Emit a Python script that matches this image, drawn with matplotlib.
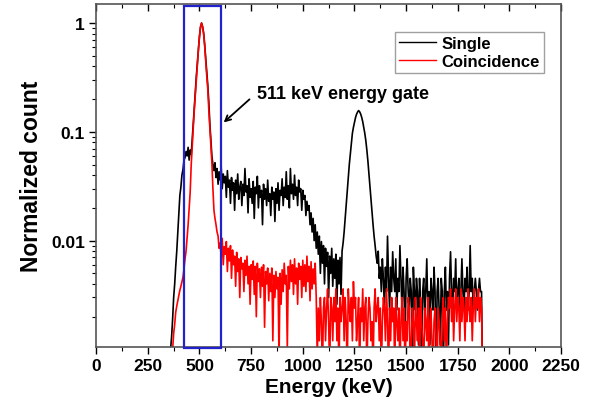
import matplotlib
matplotlib.use("Agg")
import matplotlib.pyplot as plt
import matplotlib.transforms as mtransforms
from matplotlib.patches import Rectangle
from matplotlib.ticker import MultipleLocator, LogLocator, NullFormatter
import numpy as np

# channel energies (keV), 5 keV bins
energy = np.arange(350, 1880, 5)

# Single spectrum (0.0005 = empty bin, below the axis)
single = [
    0.0005, 0.0006, 0.0010, 0.0013, 0.0019, 0.0030, 0.0040, 0.0058, 0.0080, 0.012,
    0.018, 0.026, 0.031, 0.040, 0.045, 0.055, 0.058, 0.066, 0.060, 0.072,
    0.055, 0.068, 0.062, 0.085, 0.12, 0.17, 0.24, 0.33, 0.44, 0.59,
    0.76, 0.92, 1.0, 0.93, 0.81, 0.64, 0.48, 0.36, 0.27, 0.19,
    0.12, 0.085, 0.060, 0.050, 0.044, 0.052, 0.038, 0.046, 0.033, 0.043,
    0.036, 0.048, 0.030, 0.041, 0.034, 0.039, 0.025, 0.044, 0.031, 0.036,
    0.022, 0.038, 0.029, 0.034, 0.019, 0.036, 0.027, 0.041, 0.024, 0.031,
    0.035, 0.021, 0.033, 0.026, 0.046, 0.028, 0.032, 0.018, 0.037, 0.025,
    0.030, 0.022, 0.035, 0.016, 0.031, 0.027, 0.039, 0.020, 0.032, 0.025,
    0.029, 0.014, 0.033, 0.024, 0.030, 0.021, 0.036, 0.023, 0.027, 0.017,
    0.031, 0.024, 0.028, 0.015, 0.030, 0.022, 0.034, 0.019, 0.029, 0.026,
    0.037, 0.021, 0.031, 0.025, 0.043, 0.024, 0.032, 0.020, 0.046, 0.027,
    0.033, 0.024, 0.040, 0.026, 0.031, 0.021, 0.036, 0.028, 0.030, 0.019,
    0.029, 0.024, 0.026, 0.017, 0.023, 0.019, 0.021, 0.014, 0.018, 0.012,
    0.016, 0.010, 0.014, 0.0085, 0.012, 0.0075, 0.011, 0.0050, 0.0098, 0.0062,
    0.0090, 0.0040, 0.0085, 0.0058, 0.0078, 0.0030, 0.0072, 0.0050, 0.0085, 0.0038,
    0.0068, 0.0045, 0.0075, 0.0026, 0.0066, 0.0040, 0.0070, 0.0032, 0.0080, 0.0095,
    0.012, 0.016, 0.021, 0.029, 0.038, 0.050, 0.063, 0.078, 0.097, 0.110,
    0.122, 0.135, 0.145, 0.152, 0.157, 0.153, 0.146, 0.136, 0.124, 0.110,
    0.097, 0.083, 0.068, 0.054, 0.041, 0.031, 0.024, 0.018, 0.014, 0.011,
    0.0090, 0.0072, 0.0062, 0.0080, 0.0045, 0.0057, 0.0034, 0.0068, 0.0045, 0.0023,
    0.0057, 0.0034, 0.0110, 0.0045, 0.0023, 0.0057, 0.0034, 0.0079, 0.0045, 0.0034,
    0.0068, 0.0023, 0.0045, 0.0034, 0.0090, 0.0045, 0.0023, 0.0057, 0.0034, 0.0011,
    0.0045, 0.0068, 0.0034, 0.0023, 0.0045, 0.0034, 0.0005, 0.0057, 0.0034, 0.0023,
    0.0045, 0.0034, 0.0011, 0.0045, 0.0023, 0.0005, 0.0034, 0.0045, 0.0023, 0.0034,
    0.0068, 0.0023, 0.0034, 0.0011, 0.0045, 0.0034, 0.0023, 0.0057, 0.0034, 0.0005,
    0.0034, 0.0045, 0.0023, 0.0011, 0.0045, 0.0034, 0.0005, 0.0034, 0.0057, 0.0023,
    0.0034, 0.0011, 0.0045, 0.0079, 0.0034, 0.0023, 0.0045, 0.0034, 0.0068, 0.0023,
    0.0034, 0.0045, 0.0023, 0.0034, 0.0068, 0.0034, 0.0023, 0.0045, 0.0034, 0.0057,
    0.0023, 0.0034, 0.0090, 0.0034, 0.0045, 0.0023, 0.0034, 0.0045, 0.0034, 0.0023,
    0.0034, 0.0045, 0.0034, 0.0034, 0.0005, 0.0005,
]

# Coincidence spectrum
coinc = [
    0.0005, 0.0005, 0.0005, 0.0007, 0.0010, 0.0014, 0.0017, 0.0022, 0.0025, 0.0028,
    0.0031, 0.0035, 0.0038, 0.0042, 0.0046, 0.0055, 0.0068, 0.0080, 0.0105, 0.014,
    0.020, 0.028, 0.050, 0.075, 0.11, 0.16, 0.22, 0.31, 0.42, 0.58,
    0.75, 0.92, 1.0, 0.92, 0.80, 0.62, 0.45, 0.33, 0.25, 0.16,
    0.11, 0.075, 0.052, 0.030, 0.019, 0.016, 0.014, 0.012, 0.011, 0.0085,
    0.0095, 0.0070, 0.0105, 0.0060, 0.0088, 0.0075, 0.0098, 0.0052, 0.0085, 0.0065,
    0.0090, 0.0045, 0.0082, 0.0060, 0.0072, 0.0038, 0.0078, 0.0052, 0.0068, 0.0030,
    0.0070, 0.0055, 0.0062, 0.0034, 0.0066, 0.0048, 0.0072, 0.0040, 0.0058, 0.0026,
    0.0060, 0.0044, 0.0065, 0.0032, 0.0058, 0.0020, 0.0062, 0.0042, 0.0055, 0.0030,
    0.0057, 0.0038, 0.0060, 0.0016, 0.0052, 0.0040, 0.0056, 0.0028, 0.0050, 0.0034,
    0.0056, 0.0012, 0.0048, 0.0030, 0.0052, 0.0036, 0.0046, 0.0008, 0.0050, 0.0026,
    0.0054, 0.0034, 0.0062, 0.0040, 0.0048, 0.0010, 0.0058, 0.0036, 0.0066, 0.0042,
    0.0060, 0.0032, 0.0068, 0.0040, 0.0056, 0.0026, 0.0062, 0.0044, 0.0058, 0.0030,
    0.0066, 0.0038, 0.0060, 0.0034, 0.0072, 0.0042, 0.0058, 0.0028, 0.0064, 0.0036,
    0.0055, 0.0040, 0.0062, 0.0030, 0.0008, 0.0024, 0.0012, 0.0030, 0.0018, 0.0006,
    0.0024, 0.0030, 0.0012, 0.0024, 0.0036, 0.0018, 0.0006, 0.0030, 0.0024, 0.0012,
    0.0030, 0.0018, 0.0036, 0.0012, 0.0024, 0.0006, 0.0030, 0.0018, 0.0024, 0.0036,
    0.0012, 0.0030, 0.0018, 0.0006, 0.0036, 0.0024, 0.0018, 0.0030, 0.0012, 0.0042,
    0.0024, 0.0030, 0.0012, 0.0018, 0.0030, 0.0006, 0.0024, 0.0018, 0.0036, 0.0012,
    0.0024, 0.0030, 0.0006, 0.0018, 0.0030, 0.0024, 0.0012, 0.0018, 0.0006, 0.0024,
    0.0036, 0.0018, 0.0024, 0.0030, 0.0012, 0.0024, 0.0006, 0.0018, 0.0030, 0.0024,
    0.0012, 0.0036, 0.0018, 0.0006, 0.0024, 0.0012, 0.0030, 0.0018, 0.0024, 0.0006,
    0.0030, 0.0018, 0.0012, 0.0024, 0.0006, 0.0018, 0.0030, 0.0012, 0.0024, 0.0006,
    0.0018, 0.0012, 0.0030, 0.0024, 0.0006, 0.0012, 0.0024, 0.0018, 0.0006, 0.0030,
    0.0018, 0.0012, 0.0024, 0.0006, 0.0030, 0.0018, 0.0012, 0.0006, 0.0024, 0.0018,
    0.0012, 0.0030, 0.0006, 0.0018, 0.0024, 0.0012, 0.0006, 0.0018, 0.0024, 0.0012,
    0.0006, 0.0024, 0.0018, 0.0012, 0.0006, 0.0018, 0.0030, 0.0012, 0.0024, 0.0006,
    0.0018, 0.0030, 0.0024, 0.0036, 0.0018, 0.0030, 0.0012, 0.0024, 0.0036, 0.0018,
    0.0030, 0.0024, 0.0012, 0.0036, 0.0018, 0.0030, 0.0024, 0.0012, 0.0030, 0.0018,
    0.0036, 0.0024, 0.0018, 0.0030, 0.0012, 0.0024, 0.0036, 0.0018, 0.0030, 0.0024,
    0.0036, 0.0018, 0.0030, 0.0024, 0.0005, 0.0005,
]

gate = (425, 605)  # keV window drawn as the blue box

plt.rcParams['font.family'] = ['Liberation Sans', 'DejaVu Sans']
plt.rcParams['font.weight'] = 'bold'

fig = plt.figure(figsize=(5.9, 4.1), dpi=100)
ax = fig.add_axes([0.163, 0.151, 0.788, 0.837])

ax.plot(energy, single, color='black', lw=1.2, label='Single')
ax.plot(energy, coinc, color='#ff0000', lw=1.2, label='Coincidence')

ax.set_yscale('log')
ax.set_xlim(0, 2250)
ax.set_ylim(0.00105, 1.5)

trans = mtransforms.blended_transform_factory(ax.transData, ax.transAxes)
ax.add_patch(Rectangle((gate[0], -0.004), gate[1] - gate[0], 0.998,
                       transform=trans, fill=False, edgecolor='#2222cc',
                       lw=1.6, clip_on=False, zorder=5))

ax.annotate('', xy=(617, 0.122), xytext=(742, 0.199),
            arrowprops=dict(arrowstyle='->', color='black', lw=1.3,
                            shrinkA=0, shrinkB=0))
ax.text(780, 0.227, '511 keV energy gate', fontsize=13, fontweight='bold',
        va='center', ha='left')

ax.xaxis.set_major_locator(MultipleLocator(250))
ax.xaxis.set_minor_locator(MultipleLocator(125))
ax.yaxis.set_minor_locator(LogLocator(base=10, subs=np.arange(2, 10)))
ax.yaxis.set_minor_formatter(NullFormatter())
ax.set_yticks([0.01, 0.1, 1])
ax.set_yticklabels(['0.01', '0.1', '1'])

ax.tick_params(axis='x', which='both', direction='out', top=False, labelsize=12.5, pad=3)
ax.tick_params(axis='x', which='major', length=5, width=1)
ax.tick_params(axis='x', which='minor', length=3, width=0.8)
ax.tick_params(axis='y', which='both', direction='out', right=False, labelsize=12.5, pad=3)
ax.tick_params(axis='y', which='major', length=5, width=1)
ax.tick_params(axis='y', which='minor', length=3, width=0.8)

# inward ticks along the top edge
top = ax.secondary_xaxis('top')
top.xaxis.set_major_locator(MultipleLocator(250))
top.xaxis.set_minor_locator(MultipleLocator(125))
top.tick_params(which='both', direction='in', labeltop=False)
top.tick_params(which='major', length=5, width=1)
top.tick_params(which='minor', length=3, width=0.8)

for sp in ax.spines.values():
    sp.set_color('#555555')
    sp.set_linewidth(1.2)
top.spines['top'].set_visible(False)

ax.set_xlabel('Energy (keV)', fontsize=15, fontweight='bold', labelpad=3)
ax.set_ylabel('Normalized count', fontsize=16.5, fontweight='bold', labelpad=6)

leg = ax.legend(loc='upper right', bbox_to_anchor=(0.963, 0.918), fontsize=12,
                frameon=True, fancybox=False, edgecolor='#888888',
                handlelength=2.2, borderpad=0.25, labelspacing=0.15,
                handletextpad=0.35, borderaxespad=0)
leg.get_frame().set_linewidth(1.0)
for line in leg.get_lines():
    line.set_linewidth(1.0)
for t in leg.get_texts():
    t.set_fontweight('bold')

fig.savefig('out.png', dpi=100)
